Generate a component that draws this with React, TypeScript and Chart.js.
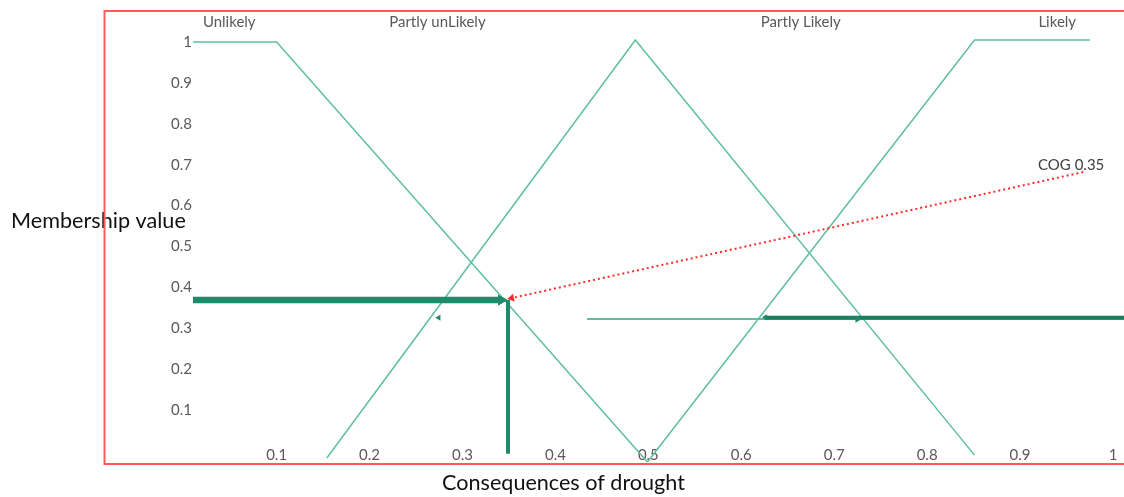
import React, { useEffect, useRef } from 'react';
import { Chart, registerables } from 'chart.js';

Chart.register(...registerables);

const FONT = 'Lato, "Liberation Sans", Arial, sans-serif';

// Axis ticks
const xTickValues = [0.1, 0.2, 0.3, 0.4, 0.5, 0.6, 0.7, 0.8, 0.9, 1];
const yTickValues = [0.1, 0.2, 0.3, 0.4, 0.5, 0.6, 0.7, 0.8, 0.9, 1];

// Fuzzy set names and where they are written (data units)
const setNames = ['Unlikely', 'Partly unLikely', 'Partly Likely', 'Likely'];
const setNameX = [0.049, 0.273, 0.664, 0.94];
const setNameY = 1.049;

// Membership functions
const unlikelyX = [0.01, 0.1, 0.499];
const unlikelyY = [1, 1, -0.027];
const partlyX = [0.154, 0.486, 0.851];
const partlyY = [-0.017, 1.005, -0.01];
const likelyX = [0.499, 0.851, 0.975];
const likelyY = [-0.027, 1.005, 1.005];

// Centre of gravity construction
const cogText = 'COG 0.35';
const cogTextX = 0.955;
const cogTextY = 0.699;
const cogLevelX = [0.01, 0.342];
const cogLevelY = [0.369, 0.369];
const cogDropX = [0.349, 0.349];
const cogDropY = [0.369, -0.007];
const pointerX = [0.968, 0.353];
const pointerY = [0.682, 0.374];

// Cut level on the right
const cutX = [0.434, 1.02];
const cutY = [0.323, 0.323];
const cutBoldX = [0.625, 1.02];
const cutBoldY = [0.326, 0.326];

// Arrow heads
const cogHeadX = [0.3417];
const cogHeadY = [0.369];
const pointerHeadX = [0.3529];
const pointerHeadY = [0.3738];
const leftMarkX = [0.2744, 0.626];
const leftMarkY = [0.326, 0.327];
const rightMarkX = [0.725];
const rightMarkY = [0.322];

const THIN = '#5fbf9c';
const DARK = '#1f8a69';
const RED = '#ff2b2b';

const pts = (xs: number[], ys: number[]) => xs.map((x, i) => ({ x, y: ys[i] }));

const line = (xs: number[], ys: number[], color: string, width: number, extra: any = {}) => ({
  data: pts(xs, ys),
  showLine: true,
  borderColor: color,
  backgroundColor: color,
  borderWidth: width,
  pointRadius: 0,
  pointHoverRadius: 0,
  tension: 0,
  clip: false,
  ...extra,
});

const head = (xs: number[], ys: number[], rot: number, r: number, color: string) => ({
  data: pts(xs, ys),
  showLine: false,
  pointStyle: 'triangle',
  pointRotation: rot,
  pointRadius: r,
  pointHoverRadius: r,
  pointBackgroundColor: color,
  pointBorderColor: color,
  pointBorderWidth: 0,
  clip: false,
});

const fmt = (v: number) => (Math.abs(v - 1) < 1e-9 ? '1' : Number(v).toFixed(1));

function fitFont(ctx: CanvasRenderingContext2D, text: string, width: number) {
  ctx.font = `20px ${FONT}`;
  const w = ctx.measureText(text).width;
  return (20 * width) / w;
}

const decor = {
  id: 'decor',
  afterDraw(chart: any) {
    const { ctx, scales } = chart;
    const xs = scales.x;
    const ys = scales.y;
    ctx.save();
    // set names
    ctx.font = `15px ${FONT}`;
    ctx.fillStyle = '#595959';
    ctx.textAlign = 'center';
    ctx.textBaseline = 'middle';
    setNames.forEach((n, i) => {
      ctx.fillText(n, xs.getPixelForValue(setNameX[i]), ys.getPixelForValue(setNameY));
    });
    ctx.fillStyle = '#404040';
    ctx.fillText(cogText, xs.getPixelForValue(cogTextX), ys.getPixelForValue(cogTextY));

    // axis titles
    ctx.fillStyle = '#111111';
    const ySize = fitFont(ctx, 'Membership value', 175);
    ctx.font = `${ySize}px ${FONT}`;
    ctx.textAlign = 'left';
    ctx.textBaseline = 'alphabetic';
    ctx.fillText('Membership value', 11, 228);
    const xSize = fitFont(ctx, 'Consequences of drought', 243);
    ctx.font = `${xSize}px ${FONT}`;
    ctx.textAlign = 'center';
    ctx.fillText('Consequences of drought', 563.5, 490);

    // frame
    ctx.strokeStyle = '#ff5b5b';
    ctx.lineWidth = 2;
    ctx.strokeRect(104.5, 11, 1040, 453);
    ctx.restore();
  },
};

export default function App() {
  const ref = useRef<HTMLCanvasElement | null>(null);

  useEffect(() => {
    if (!ref.current) return;
    const tickFont = { family: FONT, size: 15 };
    const chart = new Chart(ref.current, {
      type: 'scatter',
      data: {
        datasets: [
          head(pointerHeadX, pointerHeadY, 257.5, 4.5, RED) as any,
          head(cogHeadX, cogHeadY, 90, 6.5, DARK),
          head(leftMarkX, leftMarkY, 270, 3.5, DARK),
          head(rightMarkX, rightMarkY, 90, 4, DARK),
          line(pointerX, pointerY, RED, 2, { borderDash: [2, 3] }),
          line(cogLevelX, cogLevelY, DARK, 6.5),
          line(cogDropX, cogDropY, DARK, 4),
          line(cutBoldX, cutBoldY, '#1b7e5e', 4),
          line(cutX, cutY, THIN, 2),
          line(unlikelyX, unlikelyY, THIN, 1.5),
          line(partlyX, partlyY, THIN, 1.5),
          line(likelyX, likelyY, THIN, 1.5),
        ],
      },
      options: {
        responsive: false,
        devicePixelRatio: 1,
        animation: false,
        events: [],
        layout: { padding: { left: 0, right: 11, top: 13.4, bottom: 0 } },
        plugins: { legend: { display: false }, tooltip: { enabled: false } },
        scales: {
          x: {
            type: 'linear',
            min: 0.01,
            max: 1.0,
            grid: { display: false, drawTicks: false },
            border: { display: false },
            ticks: {
              autoSkip: false,
              maxRotation: 0,
              padding: 1,
              color: '#595959',
              font: tickFont,
              callback: (v: any) => fmt(Number(v)),
            },
            afterBuildTicks: (s: any) => {
              s.ticks = xTickValues.map((value) => ({ value }));
            },
            afterFit: (s: any) => {
              s.height = 52;
            },
          },
          y: {
            type: 'linear',
            min: 0.0147,
            max: 1.07,
            grid: { display: false, drawTicks: false },
            border: { display: false },
            ticks: {
              autoSkip: false,
              padding: 1,
              color: '#595959',
              font: tickFont,
              callback: (v: any) => fmt(Number(v)),
            },
            afterBuildTicks: (s: any) => {
              s.ticks = yTickValues.map((value) => ({ value }));
            },
            afterFit: (s: any) => {
              s.width = 193;
            },
          },
        },
      },
      plugins: [decor],
    } as any);
    return () => chart.destroy();
  }, []);

  return (
    <div style={{ position: 'absolute', left: 0, top: 0, width: 1124, height: 497, background: '#fff' }}>
      <canvas ref={ref} width={1124} height={497} style={{ display: 'block' }} />
    </div>
  );
}
